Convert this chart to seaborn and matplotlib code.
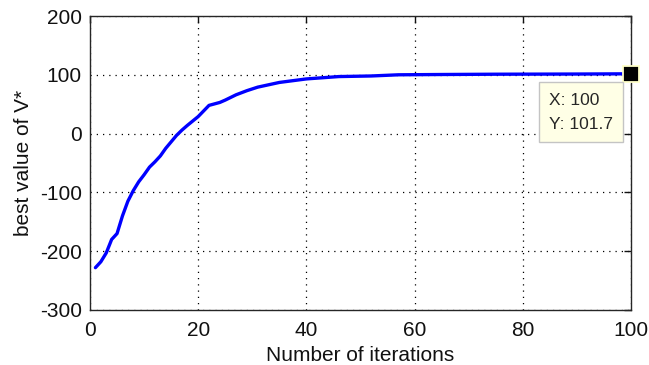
import matplotlib
matplotlib.use("Agg")
import matplotlib.pyplot as plt
import seaborn as sns
import pandas as pd

iterations = [1, 2, 3, 4, 5, 6, 7, 8, 9, 10, 11, 12, 13, 14, 15, 16, 17, 18, 20,
              22, 24, 25, 27, 29, 31, 35, 40, 46, 52, 57, 65, 75, 90, 100]
best_v = [-228, -218, -203, -180, -170, -140, -115, -97, -82, -70, -57, -48, -38,
          -25, -14, -3, 6, 14, 29, 48, 53, 57, 66, 73, 79, 87, 93, 97, 98, 100,
          100.5, 101, 101.3, 101.7]
x_ticks = [0, 20, 40, 60, 80, 100]
y_ticks = [-300, -200, -100, 0, 100, 200]
tip_x, tip_y = 100, 101.7

sns.set_style("white")
plt.rcParams['font.family'] = ['Liberation Sans', 'DejaVu Sans']
plt.rcParams['axes.unicode_minus'] = False

fig = plt.figure(figsize=(6.49, 3.65), dpi=100)
ax = fig.add_axes([90/649, 1-310/365, (631-90)/649, (310-16)/365])

df = pd.DataFrame({"it": iterations, "v": best_v})
sns.lineplot(data=df, x="it", y="v", ax=ax, color="#0000FF", linewidth=2.4)

ax.set_xlim(0, 100)
ax.set_ylim(-300, 200)
ax.set_xticks(x_ticks)
ax.set_yticks(y_ticks)
ax.grid(True, linestyle=(0, (1, 4)), color="black", linewidth=0.9)
ax.tick_params(direction="in", length=5, width=1, top=True, right=True,
               labelsize=15, colors="#111111", pad=6)
ax.tick_params(axis="x", pad=8)
for s in ax.spines.values():
    s.set_color("#262626")
    s.set_linewidth(1)
ax.set_xlabel("Number of iterations", fontsize=15, labelpad=4, color="#111111")
ax.set_ylabel("best value of V*", fontsize=15, labelpad=5, color="#111111")

ax.plot([tip_x], [tip_y], marker="s", markersize=11, color="black",
        markeredgecolor="#FFFFC8", markeredgewidth=1.3, clip_on=False, zorder=5)
ax.annotate(f"X: {tip_x}\nY: {tip_y}", xy=(tip_x, tip_y), xytext=(-82, -19),
            textcoords="offset pixels",
            ha="left", va="top", fontsize=12.5, linespacing=1.75,
            bbox=dict(boxstyle="square,pad=0.6", fc="#FFFFE6", ec="#C4C4C4", lw=1),
            zorder=6)

fig.savefig("out.png", dpi=100)
